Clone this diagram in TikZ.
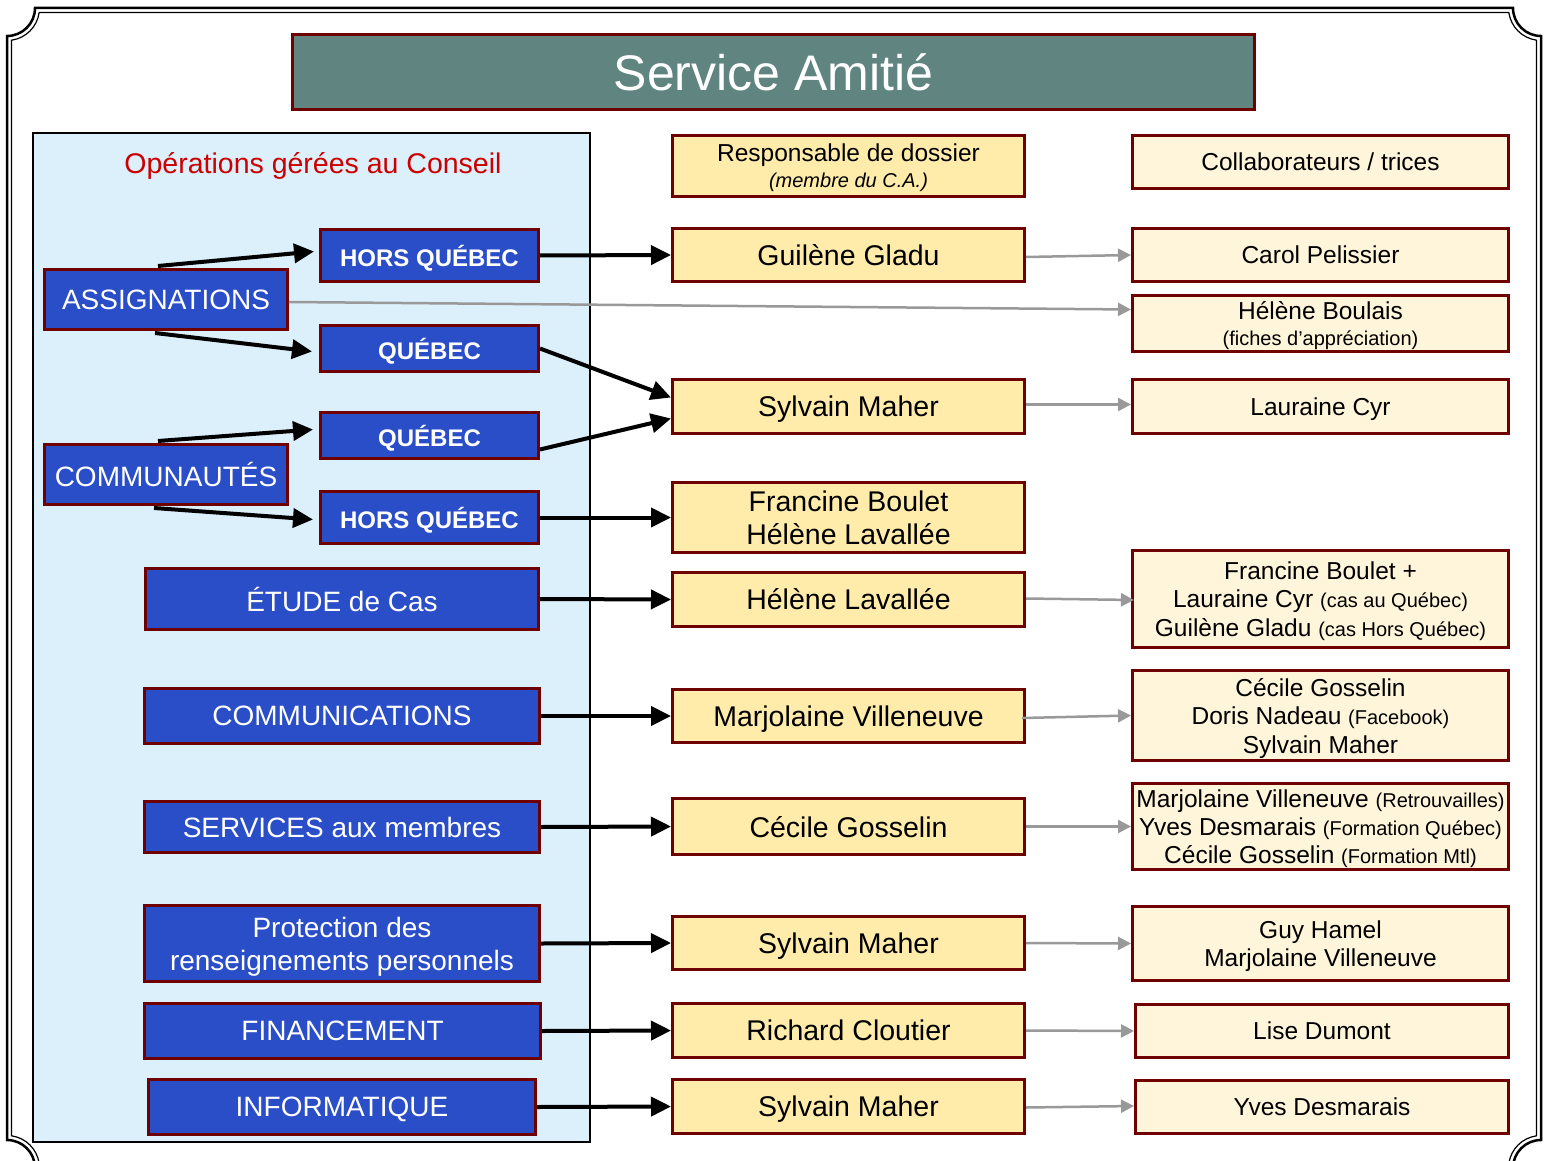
\documentclass[tikz,border=0pt]{standalone}
\usepackage{fontspec}
\setmainfont{Liberation Sans}
\usetikzlibrary{arrows.meta,calc}
\definecolor{bord}{RGB}{110,0,0}
\definecolor{blueF}{RGB}{42,77,200}
\definecolor{titleF}{RGB}{96,132,128}
\definecolor{panelF}{RGB}{220,240,252}
\definecolor{midF}{RGB}{255,236,170}
\definecolor{rightF}{RGB}{255,245,218}
\definecolor{opsred}{RGB}{204,0,0}
\definecolor{grayA}{RGB}{153,153,153}
\newcommand\fsz[2]{\fontsize{#1}{#2}\selectfont}
\newcommand\smtxt[1]{{\fsz{20}{24}#1}}
\begin{document}
\begin{tikzpicture}[x=1pt,y=-1pt,
 box/.style={draw=bord,line width=3pt,inner sep=0pt,align=center,text depth=0pt},
 bluebox/.style={box,fill=blueF,text=white,font=\fsz{28}{33}},
 blueboldbox/.style={box,fill=blueF,text=white,font=\fsz{24}{29}\bfseries},
 midbox/.style={box,fill=midF,text=black,font=\fsz{28.5}{33},minimum width=352pt},
 rightbox/.style={box,fill=rightF,text=black,font=\fsz{24.5}{28.5},minimum width=376pt},
 blk/.style={line width=4pt,-{Triangle[length=20pt,width=19pt]}},
 gry/.style={draw=grayA,line width=2.5pt,-{Triangle[length=13pt,width=13pt]}},
 frameouter/.style={line width=2.5pt,draw=black},
 frameinner/.style={line width=1.2pt,draw=black}
]
\useasboundingbox (0,0) rectangle (1544,1161);
\fill[white] (0,0) rectangle (1544,1161);
\begin{scope}
\clip (0,0) rectangle (1544,1161);
% decorative frame
\draw[frameouter] (35,8) -- (1513,8) arc[start angle=180,end angle=270,radius=28pt]
  -- (1541,1140) arc[start angle=90,end angle=180,radius=28pt]
  -- (35,1168) arc[start angle=0,end angle=90,radius=28pt]
  -- (7,36) arc[start angle=270,end angle=360,radius=28pt] -- cycle;
\draw[frameinner] (39.2,12.5) -- (1508.8,12.5) arc[start angle=187.96,end angle=262.04,radius=32.5pt]
  -- (1536.5,1135.8) arc[start angle=97.96,end angle=172.04,radius=32.5pt]
  -- (39.2,1163.5) arc[start angle=7.96,end angle=82.04,radius=32.5pt]
  -- (11.5,40.2) arc[start angle=277.96,end angle=352.04,radius=32.5pt] -- cycle;
\end{scope}

% title
\node[box,fill=titleF,text=white,font=\fsz{50}{60},minimum width=962pt,minimum height=75pt] (title) at (773.5,72) {Service Amitié};

% left panel
\node[draw=black,line width=2pt,fill=panelF,minimum width=557pt,minimum height=1009pt,inner sep=0pt] (panel) at (311.5,637.5) {};
\node[text=opsred,font=\fsz{28.5}{33},text depth=0pt] (ops) at (313,163) {Opérations gérées au Conseil};

% blue boxes
\node[blueboldbox,minimum width=218pt,minimum height=52pt] (hq1) at (429.5,255.5) {HORS QUÉBEC};
\node[bluebox,minimum width=243pt,minimum height=60pt] (asg) at (166,299.5) {ASSIGNATIONS};
\node[blueboldbox,minimum width=218pt,minimum height=46pt] (q1) at (429.5,348.5) {QUÉBEC};
\node[blueboldbox,minimum width=218pt,minimum height=46pt] (q2) at (429.5,435.5) {QUÉBEC};
\node[bluebox,minimum width=243pt,minimum height=60pt] (com) at (166,474.5) {COMMUNAUTÉS};
\node[blueboldbox,minimum width=218pt,minimum height=52pt] (hq2) at (429.5,517.5) {HORS QUÉBEC};
\node[bluebox,minimum width=393pt,minimum height=61pt] (etude) at (342,599) {ÉTUDE de Cas};
\node[bluebox,minimum width=395pt,minimum height=55pt] (comm) at (342,716) {COMMUNICATIONS};
\node[bluebox,minimum width=395pt,minimum height=51pt] (serv) at (342,827) {SERVICES aux membres};
\node[bluebox,minimum width=395pt,minimum height=76pt] (prot) at (342,943.5) {Protection des\\renseignements personnels};
\node[bluebox,minimum width=396pt,minimum height=55pt] (fin) at (342.5,1031) {FINANCEMENT};
\node[bluebox,minimum width=387pt,minimum height=55pt] (info) at (342,1107) {INFORMATIQUE};

% middle column
\node[midbox,font=\fsz{24.5}{26},minimum height=61pt] (resp) at (848.5,166) {Responsable de dossier\\{\fsz{20}{24}\itshape (membre du C.A.)}};
\node[midbox,minimum height=53pt] (m1) at (848.5,255) {Guilène Gladu};
\node[midbox,minimum height=54pt] (m2) at (848.5,406.5) {Sylvain Maher};
\node[midbox,minimum height=70pt] (m3) at (848.5,517.5) {Francine Boulet\\Hélène Lavallée};
\node[midbox,minimum height=54pt] (m4) at (848.5,599.5) {Hélène Lavallée};
\node[midbox,minimum height=53pt] (m5) at (848.5,716) {Marjolaine Villeneuve};
\node[midbox,minimum height=56pt] (m6) at (848.5,826.5) {Cécile Gosselin};
\node[midbox,minimum height=53pt] (m7) at (848.5,943) {Sylvain Maher};
\node[midbox,minimum height=54pt] (m8) at (848.5,1030.5) {Richard Cloutier};
\node[midbox,minimum height=54pt] (m9) at (848.5,1106.5) {Sylvain Maher};

% right column
\node[rightbox,minimum height=53pt] (coll) at (1320.5,162) {Collaborateurs / trices};
\node[rightbox,minimum height=53pt] (r1) at (1320.5,255) {Carol Pelissier};
\node[rightbox,font=\fsz{24.5}{26},minimum height=56pt] (r2) at (1320.5,323.5) {Hélène Boulais\\\smtxt{(fiches d’appréciation)}};
\node[rightbox,minimum height=54pt] (r3) at (1320.5,406.5) {Lauraine Cyr};
\node[rightbox,minimum height=97pt] (r4) at (1320.5,599) {Francine Boulet +\\Lauraine Cyr \smtxt{(cas au Québec)}\\Guilène Gladu \smtxt{(cas Hors Québec)}};
\node[rightbox,minimum height=90pt] (r5) at (1320.5,715.5) {Cécile Gosselin\\Doris Nadeau \smtxt{(Facebook)}\\Sylvain Maher};
\node[rightbox,font=\fsz{24.5}{28},minimum height=86pt] (r6) at (1320.5,826.5) {Marjolaine Villeneuve \smtxt{(Retrouvailles)}\\Yves Desmarais \smtxt{(Formation Québec)}\\Cécile Gosselin \smtxt{(Formation Mtl)}};
\node[rightbox,font=\fsz{24.5}{28},minimum height=74pt] (r7) at (1320.5,943.5) {Guy Hamel\\Marjolaine Villeneuve};
\node[rightbox,minimum width=373pt,minimum height=53pt] (r8) at (1322,1031) {Lise Dumont};
\node[rightbox,minimum width=373pt,minimum height=53pt] (r9) at (1322,1107) {Yves Desmarais};

% black arrows
\draw[blk] ($(asg.north)+(-8,-2)$) -- ($(hq1.west)+(-5,-4)$);
\draw[blk] ($(asg.south)+(-11,2)$) -- ($(q1.west)+(-7,3)$);
\draw[blk] ($(com.north)+(-8,-2)$) -- ($(q2.west)+(-6,-6)$);
\draw[blk] ($(com.south)+(-12,2)$) -- ($(hq2.west)+(-6,2)$);
\draw[blk] (hq1.east) -- (m1.west);
\draw[blk] (q1.east) -- ($(m2.west)+(0,-9)$);
\draw[blk] ($(q2.east)+(0,14)$) -- ($(m2.west)+(0,12)$);
\draw[blk] (hq2.east) -- (m3.west);
\draw[blk] (etude.east) -- (m4.west);
\draw[blk] (comm.east) -- (m5.west);
\draw[blk] (serv.east) -- (m6.west);
\draw[blk] (prot.east) -- (m7.west);
\draw[blk] (fin.east) -- (m8.west);
\draw[blk] (info.east) -- (m9.west);

% gray arrows
\draw[gry] ($(m1.east)+(0,2)$) -- (r1.west);
\draw[gry] ($(asg.east)+(0,2.5)$) -- ($(r2.west)+(0,-14)$);
\draw[gry] ($(m2.east)+(0,-2)$) -- ($(r3.west)+(0,-2)$);
\draw[gry] ($(m4.east)+(0,-1)$) -- ($(r4.west)+(3,1)$);
\draw[gry] ($(m5.east)+(-4,2)$) -- (r5.west);
\draw[gry] (m6.east) -- (r6.west);
\draw[gry] (m7.east) -- (r7.west);
\draw[gry] (m8.east) -- (r8.west);
\draw[gry] ($(m9.east)+(0,1)$) -- ($(r9.west)+(0,-1)$);
\end{tikzpicture}
\end{document}
